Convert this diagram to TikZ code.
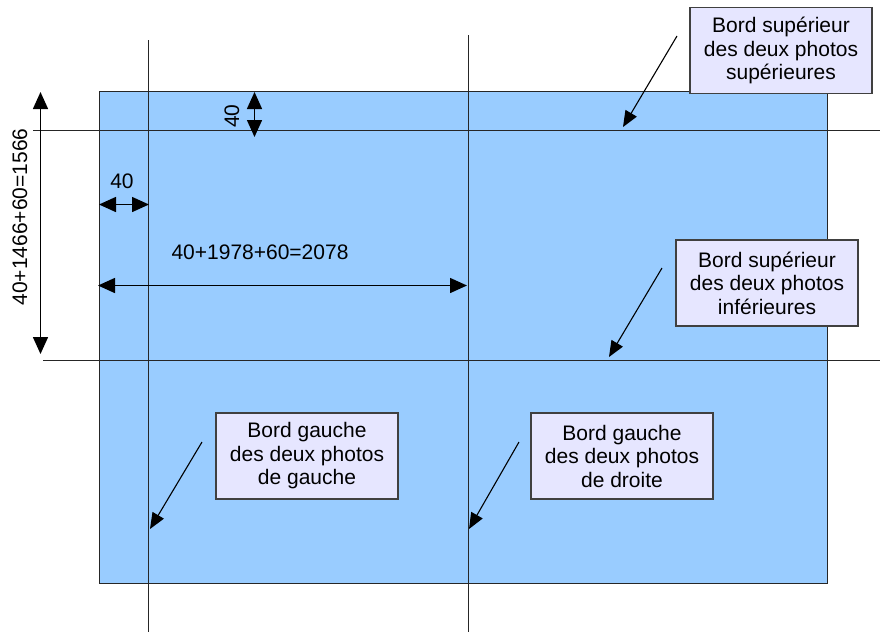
\documentclass[tikz,border=0pt]{standalone}
\usepackage{fontspec}
\setmainfont{Liberation Sans}
\usetikzlibrary{arrows.meta}
\definecolor{sheet}{HTML}{99CCFF}
\definecolor{lav}{HTML}{E6E6FF}
\begin{document}
\begin{tikzpicture}[x=1pt,y=-1pt,
 dimline/.style={line width=1.5pt, {Triangle[length=17pt,width=15pt]}-{Triangle[length=17pt,width=15pt]}},
 guide/.style={line width=1.5pt, draw=black!85},
 leader/.style={line width=1.1pt, -{Triangle[length=16pt,width=13pt]}},
 note/.style={draw=black!75, line width=1.3pt, fill=lav, minimum width=182pt, minimum height=86pt, inner sep=0pt, align=center, font=\fontsize{21}{23.5}\selectfont},
 lbl/.style={font=\fontsize{21}{24}\selectfont, inner sep=0pt}]
\useasboundingbox (0,0) rectangle (880,633);
% sheet
\path[fill=sheet, draw=black!85, line width=1.5pt] (99.5,91.5) rectangle (827.5,583.5);
% guide lines
\coordinate (v1t) at (148.5,40); \coordinate (v1b) at (148.5,632);
\coordinate (v2t) at (468.5,35); \coordinate (v2b) at (468.5,632);
\coordinate (h1l) at (33,130.5); \coordinate (h1r) at (880,130.5);
\coordinate (h2l) at (43,360.5); \coordinate (h2r) at (880,360.5);
\draw[guide] (v1t) -- (v1b);
\draw[guide] (v2t) -- (v2b);
\draw[guide] (h1l) -- (h1r);
\draw[guide] (h2l) -- (h2r);
% dimensions
\coordinate (dvt) at (40.5,92); \coordinate (dvb) at (40.5,354);
\draw[dimline] (dvt) -- (dvb);
\node[lbl, rotate=90] (lv) at (20,217) {40+1466+60=1566};
\coordinate (d40t) at (254.5,92); \coordinate (d40b) at (254.5,137);
\draw[dimline] (d40t) -- (d40b);
\node[lbl, rotate=90] (l40v) at (232,116) {40};
\coordinate (d40l) at (99,204.5); \coordinate (d40r) at (149,204.5);
\draw[dimline] (d40l) -- (d40r);
\node[lbl] (l40h) at (122,181) {40};
\coordinate (dhl) at (98,285.5); \coordinate (dhr) at (467,285.5);
\draw[dimline] (dhl) -- (dhr);
\node[lbl] (lh) at (260,252) {40+1978+60=2078};
% notes
\node[note] (n1) at (781,50.5) {Bord supérieur\\des deux photos\\supérieures};
\node[note] (n2) at (767,283) {Bord supérieur\\des deux photos\\inférieures};
\node[note] (n3) at (307,456) {Bord gauche\\des deux photos\\de gauche};
\node[note] (n4) at (622,456) {Bord gauche\\des deux photos\\de droite};
% leaders
\coordinate (a1s) at (677,36); \coordinate (a1e) at (623,127);
\coordinate (a2s) at (662,268); \coordinate (a2e) at (609,357);
\coordinate (a3s) at (202,442); \coordinate (a3e) at (150,529);
\coordinate (a4s) at (519,442); \coordinate (a4e) at (469,529);
\draw[leader] (a1s) -- (a1e);
\draw[leader] (a2s) -- (a2e);
\draw[leader] (a3s) -- (a3e);
\draw[leader] (a4s) -- (a4e);
\end{tikzpicture}
\end{document}
